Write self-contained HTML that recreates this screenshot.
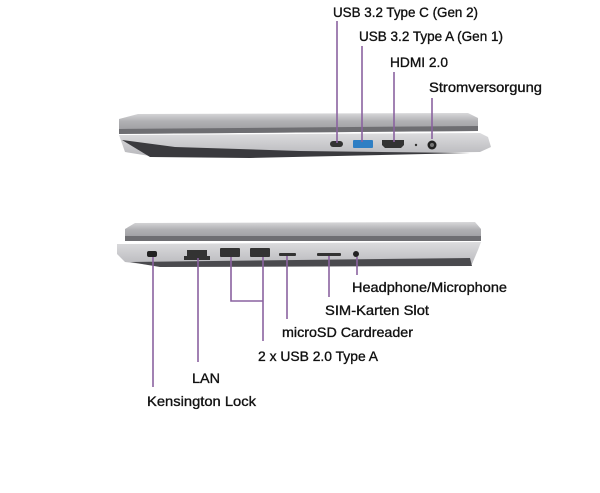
<!DOCTYPE html>
<html><head><meta charset="utf-8"><style>
html,body{margin:0;padding:0;background:#fff;width:600px;height:493px;overflow:hidden}
text{font-family:"Liberation Sans",sans-serif;font-size:14px;fill:#111;stroke:#111;stroke-width:0.35}
</style></head><body>
<svg width="600" height="493" viewBox="0 0 600 493" xmlns="http://www.w3.org/2000/svg">
<defs>
<linearGradient id="lid" x1="0" y1="0" x2="0" y2="1"><stop offset="0" stop-color="#d8d8da"/><stop offset="0.4" stop-color="#b0b0b3"/><stop offset="1" stop-color="#97979b"/></linearGradient>
<linearGradient id="body" x1="0" y1="0" x2="0" y2="1"><stop offset="0" stop-color="#dcdcde"/><stop offset="1" stop-color="#b8b8bc"/></linearGradient>
</defs>
<!-- TOP LAPTOP -->
<path d="M119 119 L138 114 L468 113 L478 118 L478 131 L119 134 Z" fill="url(#lid)"/>
<path d="M119 129 L478 126 L478 131 L119 134 Z" fill="#6e6e72"/>
<path d="M119 135 L480 133 L488 137 L491 147 L480 152 L200 156 L150 156 L125 152 Z" fill="url(#body)"/>
<path d="M122 140 L150 157 L250 158 L470 153 L300 151 L175 147 Z" fill="#3a3a3e"/>
<rect x="330" y="141" width="13" height="6" rx="3" fill="#333"/>
<rect x="353" y="140" width="20" height="8" rx="1" fill="#2f7fc4"/>
<path d="M382 140 h22 v5 l-3 3 h-16 l-3 -3z" fill="#333"/>
<circle cx="416" cy="145" r="1.2" fill="#333"/>
<circle cx="432" cy="145" r="4.5" fill="#222"/><circle cx="432" cy="145" r="2" fill="#777"/>
<!-- BOTTOM LAPTOP -->
<path d="M125 229 L135 223 L475 222 L481 229 L481 240 L125 241 Z" fill="url(#lid)"/>
<path d="M125 236 L481 236 L481 241 L125 241 Z" fill="#6e6e72"/>
<path d="M117 244 L481 242 L478 250 L472 264 L160 266 L125 262 L117 254 Z" fill="url(#body)"/>
<path d="M130 262 L470 258 L472 266 L160 267 Z" fill="#4a4a4e"/>
<rect x="147" y="251" width="10" height="6" rx="2" fill="#222"/>
<path d="M187 250 h20 v6 h3 v4 h-26 v-4 h3z" fill="#333"/>
<rect x="220" y="248" width="20" height="9" rx="1" fill="#333"/>
<rect x="250" y="248" width="20" height="9" rx="1" fill="#333"/>
<rect x="279" y="253" width="17" height="3" rx="1" fill="#333"/>
<rect x="317" y="253" width="24" height="3" rx="1" fill="#333"/>
<circle cx="356" cy="254" r="3" fill="#222"/>
<!-- LINES -->
<g stroke="#8a62a0" stroke-width="1.6" fill="none">
<line x1="337" y1="21" x2="337" y2="143"/>
<line x1="362" y1="46" x2="362" y2="142"/>
<line x1="394" y1="72" x2="394" y2="142"/>
<line x1="432" y1="98" x2="432" y2="139"/>
<line x1="153" y1="257" x2="153" y2="387"/>
<line x1="198" y1="258" x2="198" y2="362"/>
<polyline points="231,257 231,301 263,301"/>
<line x1="263" y1="257" x2="263" y2="341"/>
<line x1="287" y1="256" x2="287" y2="319"/>
<line x1="329" y1="256" x2="329" y2="297"/>
<line x1="357" y1="257" x2="357" y2="275"/>
</g>
<!-- LABELS -->
<text x="333" y="17" textLength="145" lengthAdjust="spacingAndGlyphs">USB 3.2 Type C (Gen 2)</text>
<text x="359" y="41" textLength="144" lengthAdjust="spacingAndGlyphs">USB 3.2 Type A (Gen 1)</text>
<text x="390" y="67" textLength="58" lengthAdjust="spacingAndGlyphs">HDMI 2.0</text>
<text x="429" y="92" textLength="113" lengthAdjust="spacingAndGlyphs">Stromversorgung</text>
<text x="352" y="292" textLength="155" lengthAdjust="spacingAndGlyphs">Headphone/Microphone</text>
<text x="325" y="315" textLength="104" lengthAdjust="spacingAndGlyphs">SIM-Karten Slot</text>
<text x="282" y="337" textLength="131" lengthAdjust="spacingAndGlyphs">microSD Cardreader</text>
<text x="258" y="361" textLength="120" lengthAdjust="spacingAndGlyphs">2 x USB 2.0 Type A</text>
<text x="192" y="383" textLength="28" lengthAdjust="spacingAndGlyphs">LAN</text>
<text x="147" y="406" textLength="109" lengthAdjust="spacingAndGlyphs">Kensington Lock</text>
</svg>
</body></html>
